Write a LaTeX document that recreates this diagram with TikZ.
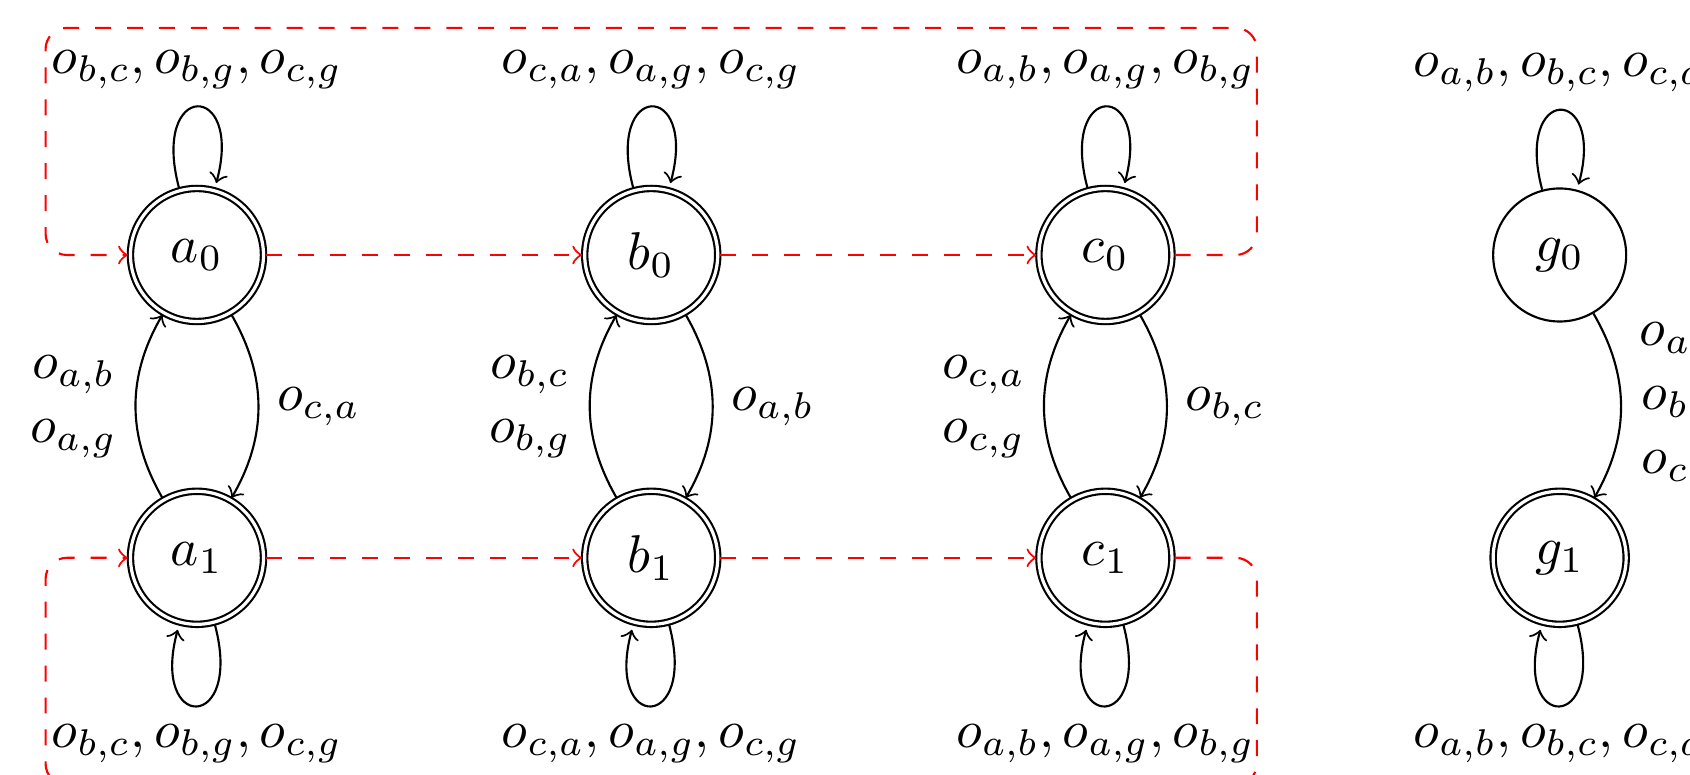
\documentclass[tikz,border=0pt]{standalone}
\usetikzlibrary{automata,arrows}
\begin{document}
\begin{tikzpicture}[
  >=to, auto,
  every state/.style={draw, circle, minimum size=2.5em, inner sep=0pt},
  redlink/.style={red, dashed, ->, rounded corners=4pt},
  multilabel/.style={align=center}
]
\useasboundingbox (-1.301,-3.428) rectangle (9.861,1.684);
\clip (-1.301,-3.428) rectangle (9.861,1.684);

\node[state, accepting] (a0) at (0,0) {$a_0$};
\node[state, accepting] (a1) at (0,-2) {$a_1$};
\node[state, accepting] (b0) at (3,0) {$b_0$};
\node[state, accepting] (b1) at (3,-2) {$b_1$};
\node[state, accepting] (c0) at (6,0) {$c_0$};
\node[state, accepting] (c1) at (6,-2) {$c_1$};
\node[state] (g0) at (9,0) {$g_0$};
\node[state, accepting] (g1) at (9,-2) {$g_1$};

\coordinate (tr) at (7,1.5);
\coordinate (tl) at (-1,1.5);
\coordinate (br) at (7,-3.5);
\coordinate (bl) at (-1,-3.5);

\path[->]
  (a0) edge[loop above] node {$o_{b,c}, o_{b,g}, o_{c,g}$} ()
  (a1) edge[loop below] node {$o_{b,c}, o_{b,g}, o_{c,g}$} ()
  (b0) edge[loop above] node {$o_{c,a}, o_{a,g}, o_{c,g}$} ()
  (b1) edge[loop below] node {$o_{c,a}, o_{a,g}, o_{c,g}$} ()
  (c0) edge[loop above] node {$o_{a,b}, o_{a,g}, o_{b,g}$} ()
  (c1) edge[loop below] node {$o_{a,b}, o_{a,g}, o_{b,g}$} ()
  (g0) edge[loop above] node {$o_{a,b}, o_{b,c}, o_{c,a}$} ()
  (g1) edge[loop below] node {$o_{a,b}, o_{b,c}, o_{c,a}$} ()
  (a1) edge[bend left] node[multilabel] {$o_{a,b}$\\$o_{a,g}$} (a0)
  (a0) edge[bend left] node {$o_{c,a}$} (a1)
  (b1) edge[bend left] node[multilabel] {$o_{b,c}$\\$o_{b,g}$} (b0)
  (b0) edge[bend left] node {$o_{a,b}$} (b1)
  (c1) edge[bend left] node[multilabel] {$o_{c,a}$\\$o_{c,g}$} (c0)
  (c0) edge[bend left] node {$o_{b,c}$} (c1)
  (g0) edge[bend left] node[multilabel] {$o_{a,g}$\\$o_{b,g}$\\$o_{c,g}$} (g1);

\draw[redlink] (a0) -- (b0);
\draw[redlink] (b0) -- (c0);
\draw[redlink] (c0) -| (tr) -- (tl) |- (a0);
\draw[redlink] (a1) -- (b1);
\draw[redlink] (b1) -- (c1);
\draw[redlink] (c1) -| (br) -- (bl) |- (a1);
\end{tikzpicture}
\end{document}
